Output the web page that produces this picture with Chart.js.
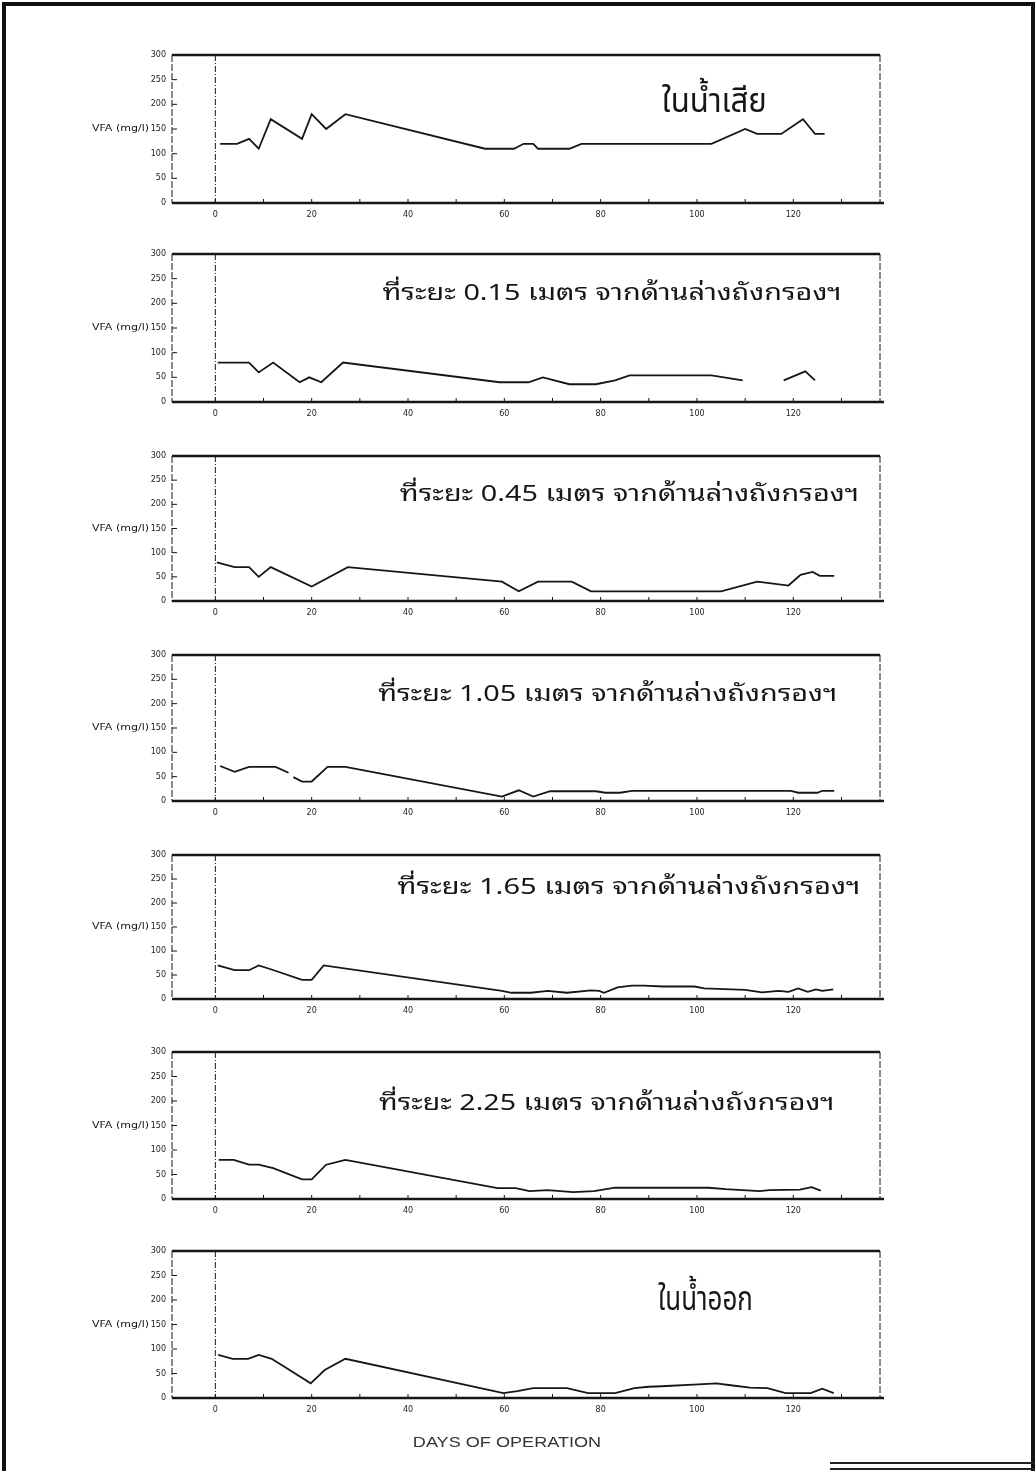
<!DOCTYPE html>
<html>
<head>
<meta charset="utf-8">
<script src="https://cdn.jsdelivr.net/npm/chart.js@4.4.1/dist/chart.umd.min.js"></script>
<style>
  html, body { margin: 0; padding: 0; background: #fff; }
  #page { position: relative; width: 1035px; height: 1471px; overflow: hidden; background: #fff; }
  .frame { position: absolute; left: 2px; top: 2px; width: 1025px; height: 1480px;
           border: 4px solid #111; border-bottom: none; }
  .rule { position: absolute; height: 2px; background: #222; }
  canvas { position: absolute; left: 0; }
</style>
</head>
<body>
<div id="page">
  <div class="frame"></div>
  <div class="rule" style="left:830px; top:1462px; width:205px;"></div>
  <div class="rule" style="left:830px; top:1468px; width:205px;"></div>
</div>
<script>
// VFA concentration (mg/l) against days of operation, one pair of arrays per sampling point
const influentDays = [1, 4.5, 7, 9, 11.5, 18, 20, 23, 27, 56, 62, 64, 66, 67, 73.5, 76, 103, 110, 112.5, 117.5, 122, 124.5, 126.5];
const influentVfa  = [120, 120, 130, 110, 170, 130, 180, 150, 180, 110, 110, 120, 120, 110, 110, 120, 120, 150, 140, 140, 170, 140, 140];

const depth015Days = [0.5, 7, 9, 12, 17.5, 19.5, 22, 26.5, 59, 65, 68, 73.5, 79, 83, 86, 103, 109.5, 114, 118, 122.5, 124.5];
const depth015Vfa  = [80, 80, 60, 80, 40, 50, 40, 80, 40, 40, 50, 36, 36, 44, 54, 54, 44, null, 44, 62, 44];

const depth045Days = [0.3, 4, 7, 9, 11.5, 20, 27.5, 59.5, 63, 67, 74, 78, 105, 112.5, 115, 119, 121.5, 124, 125.5, 128.5];
const depth045Vfa  = [80, 70, 70, 50, 70, 30, 70, 40, 20, 40, 40, 20, 20, 40, 37, 32, 54, 60, 52, 52];

const depth105Days = [1, 4, 7, 12.5, 15.2, 15.7, 16.2, 18, 20, 23.3, 27, 59.5, 63, 66, 69.5, 79, 81, 84, 86.5, 119.5, 121, 125, 126, 128.5];
const depth105Vfa  = [72, 60, 70, 70, 58, null, 49, 40, 40, 70, 70, 9, 22, 9, 20, 20, 17, 17, 21, 21, 17, 17, 21, 21];

const depth165Days = [0.5, 4, 7, 9, 11.5, 18, 20, 22.5, 59.5, 61.5, 65.5, 69, 73, 78, 79.7, 80.7, 83.5, 86.5, 89, 93, 99.5, 101.5, 110, 113.5, 117, 119, 121, 123, 124.7, 126, 128.3];
const depth165Vfa  = [70, 60, 60, 70, 62, 40, 40, 70, 17, 13, 13, 17, 13, 18, 17, 13, 24, 28, 28, 26, 26, 22, 19, 14, 17, 15, 22, 15, 20, 17, 20];

const depth225Days = [0.7, 3.8, 7, 9, 12, 18, 20, 23, 27, 58.6, 62.4, 65.2, 69, 74.3, 78.6, 83, 102.4, 106, 113, 115, 121.4, 123.8, 125.7];
const depth225Vfa  = [80, 80, 70, 70, 63, 40, 40, 70, 80, 22, 22, 16, 18, 14, 16, 23, 23, 20, 16, 18, 19, 24, 17];

const effluentDays = [0.6, 3.6, 6.8, 9, 11.7, 19.8, 22.7, 27, 59.8, 62.7, 66, 73, 77.4, 83, 87, 90, 92.7, 100.3, 104, 107, 111, 114.6, 118.4, 123.6, 126, 128.4];
const effluentVfa  = [88, 80, 80, 88, 80, 30, 57, 80, 10, 14, 20, 20, 10, 10, 20, 23, 24, 28, 30, 26, 21, 20, 10, 10, 19, 10];

const panelTitles = [
  'ในน้ำเสีย',
  'ที่ระยะ 0.15 เมตร จากด้านล่างถังกรองฯ',
  'ที่ระยะ 0.45 เมตร จากด้านล่างถังกรองฯ',
  'ที่ระยะ 1.05 เมตร จากด้านล่างถังกรองฯ',
  'ที่ระยะ 1.65 เมตร จากด้านล่างถังกรองฯ',
  'ที่ระยะ 2.25 เมตร จากด้านล่างถังกรองฯ',
  'ในน้ำออก'
];
const yAxisTitle = 'VFA (mg/l)';
const xAxisTitle = 'DAYS OF OPERATION';
const xTickValues = [0, 10, 20, 30, 40, 50, 60, 70, 80, 90, 100, 110, 120, 130];
const xLabelValues = [0, 20, 40, 60, 80, 100, 120];
const yTickValues = [0, 50, 100, 150, 200, 250, 300];

const seriesDays = [influentDays, depth015Days, depth045Days, depth105Days, depth165Days, depth225Days, effluentDays];
const seriesVfa  = [influentVfa, depth015Vfa, depth045Vfa, depth105Vfa, depth165Vfa, depth225Vfa, effluentVfa];

// ---- layout ----
const panelTop    = [55, 254, 456, 655, 855, 1052, 1251];
const panelHeight = [148, 148, 145, 146, 144, 147, 147];
const PAD_TOP = 15, Y_AXIS_W = 40, X_AXIS_H = 25, CANVAS_W = 900, AREA_LEFT = 172, AREA_RIGHT = 880;
// title placement in data units: left day, right day, baseline value
const titleFrom = [92.7, 34.7, 38.3, 33.8, 37.8, 34, 91.9];
const titleTo   = [114.5, 130, 133.6, 129.1, 133.9, 128.5, 111.6];
const titleBase = [185, 207, 207, 206, 218, 182, 180];
const bigThai = "34px 'Noto Sans Thai', 'Noto Sans Thai UI', 'Loma', 'Garuda', sans-serif";
const smallThai = "22px 'Noto Sans Thai Looped', 'Noto Serif Thai', 'Tlwg Typo', 'Noto Sans Thai', sans-serif";
const tickFont = { family: "'DejaVu Sans', sans-serif", size: 8 };
const ink = '#161616';

const framePlugin = {
  id: 'frame',
  beforeDatasetsDraw(chart, args, opts) {
    const { ctx, chartArea: a, scales: { x, y } } = chart;
    const seg = (x1, y1, x2, y2) => { ctx.beginPath(); ctx.moveTo(x1, y1); ctx.lineTo(x2, y2); ctx.stroke(); };
    ctx.save();
    ctx.strokeStyle = ink;
    // side borders
    ctx.lineWidth = 1;
    ctx.setLineDash([7, 2]);
    seg(a.left, a.top, a.left, a.bottom);
    seg(a.right, a.top, a.right, a.bottom);
    // start-up marker at day 0
    ctx.setLineDash([6, 2, 1, 2]);
    const x0 = x.getPixelForValue(0);
    seg(x0, a.top, x0, a.bottom);
    ctx.setLineDash([]);
    // inward tick marks
    xTickValues.forEach(v => { const px = x.getPixelForValue(v); seg(px, a.bottom, px, a.bottom - 4); });
    yTickValues.slice(1, -1).forEach(v => { const py = y.getPixelForValue(v); seg(a.left, py, a.left + 5, py); });
    // top and bottom rules
    ctx.lineWidth = 2.4;
    seg(a.left, a.top, a.right, a.top);
    seg(a.left, a.bottom, a.right + 4, a.bottom);
    ctx.restore();
  },
  afterDraw(chart, args, opts) {
    const { ctx, chartArea: a, scales: { x, y } } = chart;
    const i = opts.panel;
    ctx.save();
    ctx.fillStyle = ink;
    // y-axis title running into the 150 label
    ctx.font = "8.5px 'DejaVu Sans', sans-serif";
    ctx.textAlign = 'left';
    ctx.textBaseline = 'middle';
    const yw = ctx.measureText(yAxisTitle).width;
    ctx.save();
    ctx.translate(92, y.getPixelForValue(150));
    ctx.scale(57 / yw, 1);
    ctx.fillText(yAxisTitle, 0, 0);
    ctx.restore();
    // panel title
    ctx.font = (i === 0 || i === 6) ? bigThai : smallThai;
    ctx.textAlign = 'left';
    ctx.textBaseline = 'alphabetic';
    const text = panelTitles[i];
    const w = ctx.measureText(text).width;
    const x1 = x.getPixelForValue(titleFrom[i]);
    const x2 = x.getPixelForValue(titleTo[i]);
    ctx.translate(x1, y.getPixelForValue(titleBase[i]));
    ctx.scale((x2 - x1) / w, 1);
    ctx.fillText(text, 0, 0);
    ctx.restore();
    if (i === 6) {
      ctx.save();
      ctx.fillStyle = '#333';
      ctx.font = "15px 'Liberation Sans', sans-serif";
      ctx.textBaseline = 'middle';
      ctx.textAlign = 'left';
      const tw = ctx.measureText(xAxisTitle).width;
      const l = x.getPixelForValue(41), r = x.getPixelForValue(80.1);
      ctx.translate(l, a.bottom + 45);
      ctx.scale((r - l) / tw, 1);
      ctx.fillText(xAxisTitle, 0, 0);
      ctx.restore();
    }
  }
};

const page = document.getElementById('page');
panelTitles.forEach((title, i) => {
  const extraBottom = i === 6 ? 48 : 5;
  const h = PAD_TOP + panelHeight[i] + X_AXIS_H + extraBottom;
  const cv = document.createElement('canvas');
  cv.width = CANVAS_W; cv.height = h;
  cv.style.width = CANVAS_W + 'px'; cv.style.height = h + 'px';
  cv.style.top = (panelTop[i] - PAD_TOP) + 'px';
  page.appendChild(cv);

  const points = seriesDays[i].map((d, k) => ({ x: d, y: seriesVfa[i][k] }));
  new Chart(cv.getContext('2d'), {
    type: 'line',
    data: { datasets: [{ data: points, borderColor: ink, borderWidth: 1.8, pointRadius: 0,
                         tension: 0, spanGaps: false, fill: false }] },
    options: {
      responsive: false, animation: false, devicePixelRatio: 1,
      layout: { padding: { left: AREA_LEFT - Y_AXIS_W, right: CANVAS_W - AREA_RIGHT, top: PAD_TOP, bottom: extraBottom } },
      plugins: { legend: { display: false }, tooltip: { enabled: false }, frame: { panel: i } },
      scales: {
        x: {
          type: 'linear', min: -9, max: 138,
          grid: { display: false, drawTicks: false }, border: { display: false },
          afterBuildTicks: s => { s.ticks = xTickValues.map(v => ({ value: v })); },
          afterFit: s => { s.height = X_AXIS_H; },
          ticks: { autoSkip: false, maxRotation: 0, padding: 7, color: '#222', font: tickFont,
                   callback: v => xLabelValues.includes(v) ? String(v) : '' }
        },
        y: {
          min: 0, max: 300,
          grid: { display: false, drawTicks: false }, border: { display: false },
          afterBuildTicks: s => { s.ticks = yTickValues.map(v => ({ value: v })); },
          afterFit: s => { s.width = Y_AXIS_W; },
          ticks: { padding: 6, color: '#222', font: tickFont, callback: v => String(v) }
        }
      }
    },
    plugins: [framePlugin]
  });
});
</script>
</body>
</html>
